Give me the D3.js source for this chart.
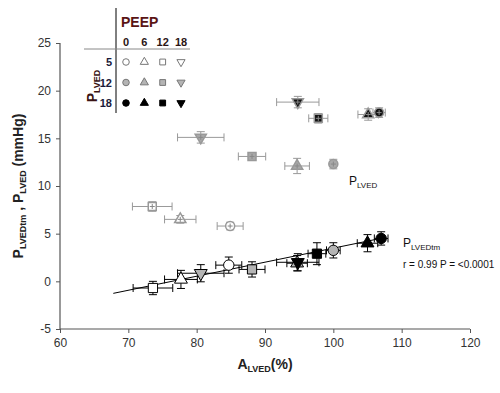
<!DOCTYPE html>
<html>
<head>
<meta charset="utf-8">
<script src="https://cdn.jsdelivr.net/npm/d3@7"></script>
<style>
  body { margin: 0; background: #fff; }
  svg { font-family: "Liberation Sans", Arial, sans-serif; }
</style>
</head>
<body>
<svg id="chart" width="500" height="393"></svg>
<script>
// PEEP / PLVED levels used for the legend
const peepLevels = [0, 6, 12, 18];
const plvedLevels = [5, 12, 18];

// upper group: P_LVED vs A_LVED
const upPlved = [5, 5, 5, 12, 12, 12, 12, 18, 18, 18, 18];
const upPeep  = [0, 6, 12, 0, 6, 12, 18, 0, 6, 12, 18];
const upA     = [84.9, 77.6, 73.5, 100.0, 94.7, 88.1, 80.6, 106.7, 105.1, 97.8, 94.8];
const upAErr  = [1.9, 2.3, 2.9, 0.4, 1.8, 2.0, 3.4, 0.9, 1.5, 1.4, 3.1];
const upP     = [5.8, 6.5, 7.85, 12.3, 12.1, 13.1, 15.1, 17.7, 17.5, 17.1, 18.8];
const upPErr  = [0.4, 0.4, 0.5, 0.5, 0.8, 0.4, 0.6, 0.5, 0.6, 0.5, 0.6];

// lower group: P_LVEDtm vs A_LVED
const loPlved = [5, 5, 5, 12, 12, 12, 18, 12, 18, 18, 18];
const loPeep  = [0, 6, 12, 18, 12, 6, 18, 0, 12, 6, 0];
const loA     = [84.7, 77.7, 73.6, 80.6, 88.1, 94.7, 94.8, 100.0, 97.6, 105.0, 107.0];
const loAErr  = [1.9, 2.4, 2.9, 3.4, 1.9, 1.5, 3.1, 1.0, 1.3, 1.5, 1.0];
const loP     = [1.7, 0.2, -0.7, 0.85, 1.25, 1.9, 2.0, 3.25, 2.9, 4.0, 4.5];
const loPErr  = [0.85, 0.95, 0.7, 0.9, 0.8, 0.8, 0.9, 0.8, 1.15, 0.9, 0.7];

// regression line for the lower group
const regA = [67.8, 107.6];
const regP = [-1.26, 4.6];

const xTicks = [60, 70, 80, 90, 100, 110, 120];
const yTicks = [-5, 0, 5, 10, 15, 20, 25];

const svg = d3.select("#chart");
const x = d3.scaleLinear().domain([60, 120]).range([60, 470]);
const y = d3.scaleLinear().domain([-5, 25]).range([329, 43]);

const fills = { 5: "#ffffff", 12: "#b4b4b4", 18: "#000000" };
const upFills = { 5: "#ffffff", 12: "#a8a8a8", 18: "#111111" };

function shape(peep, size) {
  if (peep === 0) return d3.symbol(d3.symbolCircle, size)();
  if (peep === 6) return d3.symbol(d3.symbolTriangle, size * 0.85)();
  if (peep === 12) return d3.symbol(d3.symbolSquare, size)();
  return d3.symbol(d3.symbolTriangle, size * 0.85)();
}
function rot(peep) { return peep === 18 ? " rotate(180)" : ""; }

// axes
const yAxis = svg.append("g").attr("transform", "translate(60,0)")
  .call(d3.axisLeft(y).tickValues(yTicks).tickSize(4).tickPadding(5).tickFormat(d => String(d)));
const xAxis = svg.append("g").attr("transform", "translate(0,329)")
  .call(d3.axisBottom(x).tickValues(xTicks).tickSize(4).tickPadding(5).tickFormat(d => String(d)));
[xAxis, yAxis].forEach(a => {
  a.select(".domain").attr("stroke", "#555").attr("stroke-width", 1.2);
  a.selectAll(".tick line").attr("stroke", "#555");
  a.selectAll("text").attr("font-size", 12).attr("fill", "#333")
    .attr("font-family", "Liberation Sans, Arial, sans-serif");
});
yAxis.select(".domain").attr("d", "M-0,43V329");
xAxis.select(".domain").attr("d", "M60,0H470");

// axis titles
const xt = svg.append("text").attr("x", 265).attr("y", 369).attr("text-anchor", "middle")
  .attr("font-size", 14).attr("font-weight", "bold").attr("fill", "#222");
xt.append("tspan").text("A");
xt.append("tspan").text("LVED").attr("font-size", 9).attr("dy", 3);
xt.append("tspan").text("(%)").attr("dy", -3);

const yt = svg.append("text").attr("transform", "translate(23,186) rotate(-90)")
  .attr("text-anchor", "middle").attr("font-size", 14).attr("font-weight", "bold").attr("fill", "#222");
yt.append("tspan").text("P");
yt.append("tspan").text("LVEDtm").attr("font-size", 9).attr("dy", 3);
yt.append("tspan").text(" , P").attr("dy", -3);
yt.append("tspan").text("LVED").attr("font-size", 9).attr("dy", 3);
yt.append("tspan").text(" (mmHg)").attr("dy", -3);

// regression line
svg.append("line")
  .attr("x1", x(regA[0])).attr("y1", y(regP[0]))
  .attr("x2", x(regA[1])).attr("y2", y(regP[1]))
  .attr("stroke", "#000").attr("stroke-width", 1);

function errorBars(g, A, AE, P, PE, color) {
  const cap = 4;
  A.forEach((a, i) => {
    const cx = x(a), cy = y(P[i]);
    const x0 = x(a - AE[i]), x1 = x(a + AE[i]);
    const y0 = y(P[i] - PE[i]), y1 = y(P[i] + PE[i]);
    const eb = g.append("g").attr("stroke", color).attr("stroke-width", 1).attr("fill", "none");
    eb.append("line").attr("x1", x0).attr("x2", x1).attr("y1", cy).attr("y2", cy);
    eb.append("line").attr("x1", x0).attr("x2", x0).attr("y1", cy - cap).attr("y2", cy + cap);
    eb.append("line").attr("x1", x1).attr("x2", x1).attr("y1", cy - cap).attr("y2", cy + cap);
    eb.append("line").attr("x1", cx).attr("x2", cx).attr("y1", y0).attr("y2", y1);
    eb.append("line").attr("x1", cx - cap).attr("x2", cx + cap).attr("y1", y0).attr("y2", y0);
    eb.append("line").attr("x1", cx - cap).attr("x2", cx + cap).attr("y1", y1).attr("y2", y1);
  });
}

// upper group (gray)
const up = svg.append("g");
errorBars(up, upA, upAErr, upP, upPErr, "#999");
upA.forEach((a, i) => {
  const g = up.append("g").attr("transform", `translate(${x(a)},${y(upP[i])})`);
  g.append("path").attr("d", shape(upPeep[i], 64)).attr("transform", rot(upPeep[i]).trim())
    .attr("fill", upFills[upPlved[i]]).attr("stroke", "#999").attr("stroke-width", 1.5);
  g.append("path").attr("d", "M-2.5,0H2.5M0,-2.5V2.5").attr("stroke", "#888").attr("stroke-width", 1);
});

// lower group (black)
const lo = svg.append("g");
errorBars(lo, loA, loAErr, loP, loPErr, "#000");
loA.forEach((a, i) => {
  lo.append("path").attr("d", shape(loPeep[i], 85))
    .attr("transform", `translate(${x(a)},${y(loP[i])})${rot(loPeep[i])}`)
    .attr("fill", fills[loPlved[i]]).attr("stroke", "#000").attr("stroke-width", 1);
});

// labels
const l1 = svg.append("text").attr("x", 349).attr("y", 185).attr("font-size", 12).attr("fill", "#111");
l1.append("tspan").text("P");
l1.append("tspan").text("LVED").attr("font-size", 8).attr("dy", 3);
const l2 = svg.append("text").attr("x", 403).attr("y", 247).attr("font-size", 12).attr("fill", "#111");
l2.append("tspan").text("P");
l2.append("tspan").text("LVEDtm").attr("font-size", 8).attr("dy", 3);
svg.append("text").attr("x", 403).attr("y", 268).attr("font-size", 10).attr("fill", "#111")
  .text("r = 0.99 P = <0.0001");

// legend table
const leg = svg.append("g");
leg.append("line").attr("x1", 116).attr("x2", 116).attr("y1", 8).attr("y2", 113).attr("stroke", "#000");
leg.append("line").attr("x1", 84).attr("x2", 190).attr("y1", 49).attr("y2", 49).attr("stroke", "#888");
leg.append("text").attr("x", 121).attr("y", 27).attr("font-size", 14).attr("font-weight", "bold")
  .attr("fill", "#5a1414").text("PEEP");
const colX = d3.scalePoint().domain(peepLevels).range([126, 181]);
const rowY = d3.scalePoint().domain(plvedLevels).range([62, 103]);
peepLevels.forEach(p => {
  leg.append("text").attr("x", colX(p)).attr("y", 46).attr("text-anchor", "middle")
    .attr("font-size", 11).attr("font-weight", "bold").attr("fill", "#2a1414").text(p);
});
plvedLevels.forEach(r => {
  leg.append("text").attr("x", 112).attr("y", rowY(r) + 4).attr("text-anchor", "end")
    .attr("font-size", 11).attr("font-weight", "bold").attr("fill", "#1a1a3a").text(r);
  peepLevels.forEach(p => {
    leg.append("path").attr("d", shape(p, 34))
      .attr("transform", `translate(${colX(p)},${rowY(r)})${rot(p)}`)
      .attr("fill", fills[r]).attr("stroke", r === 18 ? "#000" : "#777").attr("stroke-width", 1);
  });
});
const lp = leg.append("text").attr("transform", "translate(97,86) rotate(-90)")
  .attr("text-anchor", "middle").attr("font-size", 14).attr("font-weight", "bold").attr("fill", "#3a1414");
lp.append("tspan").text("P");
lp.append("tspan").text("LVED").attr("font-size", 9).attr("dy", 3);
</script>
</body>
</html>
